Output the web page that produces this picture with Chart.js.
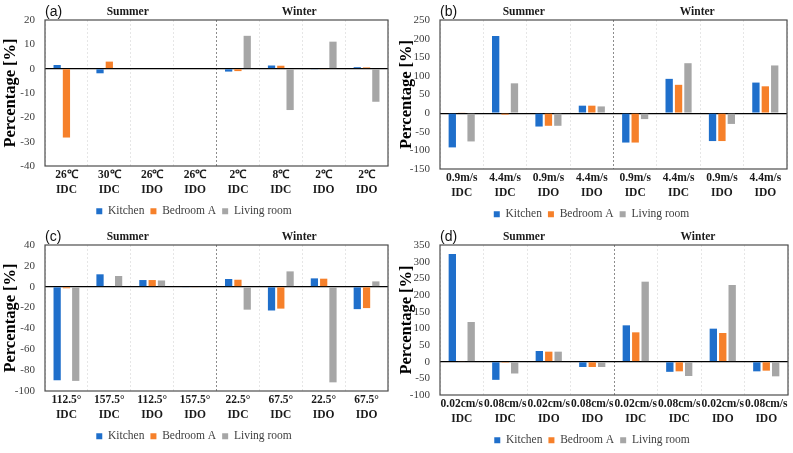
<!DOCTYPE html>
<html>
<head>
<meta charset="utf-8">
<script src="https://cdn.jsdelivr.net/npm/chart.js@4.4.1/dist/chart.umd.min.js"></script>
<style>
  html, body { margin: 0; padding: 0; background: #fff; }
  #page { position: relative; width: 793px; height: 453px; overflow: hidden; }
  .panel { position: absolute; }
</style>
</head>
<body>
<div id="page">
  <div class="panel" style="left:0;top:0;"><canvas id="chartA" width="396" height="227"></canvas></div>
  <div class="panel" style="left:396px;top:0;"><canvas id="chartB" width="397" height="230"></canvas></div>
  <div class="panel" style="left:0;top:225px;"><canvas id="chartC" width="396" height="227"></canvas></div>
  <div class="panel" style="left:396px;top:225px;"><canvas id="chartD" width="397" height="231"></canvas></div>
</div>
<script>
const seasons = ['Summer', 'Winter'];
const seriesNames = ['Kitchen', 'Bedroom A', 'Living room'];
const seriesColors = ['#1f6fcb', '#f6802a', '#a6a6a6'];

// (a) temperature
const labelsA = [['26\u2103', 'IDC'], ['30\u2103', 'IDC'], ['26\u2103', 'IDO'], ['26\u2103', 'IDO'],
                 ['2\u2103', 'IDC'], ['8\u2103', 'IDC'], ['2\u2103', 'IDO'], ['2\u2103', 'IDO']];
const kitchenA = [1.5, -1.9, 0, 0, -1.2, 1.3, -0.3, 0.6];
const bedroomA = [-28.3, 2.9, 0, 0, -1.0, 1.2, -0.3, 0.5];
const livingA  = [0, 0, 0, 0, 13.5, -17.0, 11.1, -13.6];
const yRangeA  = [-40, 20, 10];

// (b) wind speed
const labelsB = [['0.9m/s', 'IDC'], ['4.4m/s', 'IDC'], ['0.9m/s', 'IDO'], ['4.4m/s', 'IDO'],
                 ['0.9m/s', 'IDC'], ['4.4m/s', 'IDC'], ['0.9m/s', 'IDO'], ['4.4m/s', 'IDO']];
const kitchenB = [-92, 207, -36, 20, -79, 92, -75, 82];
const bedroomB = [2, -4, -34, 20, -79, 76, -75, 72];
const livingB  = [-76, 80, -34, 18, -16, 134, -29, 128];
const yRangeB  = [-150, 250, 50];

// (c) wind direction
const labelsC = [['112.5\u00b0', 'IDC'], ['157.5\u00b0', 'IDC'], ['112.5\u00b0', 'IDO'], ['157.5\u00b0', 'IDO'],
                 ['22.5\u00b0', 'IDC'], ['67.5\u00b0', 'IDC'], ['22.5\u00b0', 'IDO'], ['67.5\u00b0', 'IDO']];
const kitchenC = [-89.7, 11.9, 6.4, -0.5, 7.4, -22.8, 8.0, -21.5];
const bedroomC = [-1.5, 0, 6.4, -0.5, 6.7, -21.0, 7.7, -20.5];
const livingC  = [-90.3, 10.3, 6.0, 0, -22.0, 14.7, -91.7, 5.1];
const yRangeC  = [-100, 40, 20];

// (d) deposition velocity
const labelsD = [['0.02cm/s', 'IDC'], ['0.08cm/s', 'IDC'], ['0.02cm/s', 'IDO'], ['0.08cm/s', 'IDO'],
                 ['0.02cm/s', 'IDC'], ['0.08cm/s', 'IDC'], ['0.02cm/s', 'IDO'], ['0.08cm/s', 'IDO']];
const kitchenD = [323, -54.5, 32, -16, 109, -30.5, 99, -29];
const bedroomD = [2, -3, 30, -16, 88, -29, 86, -27];
const livingD  = [119, -35.5, 30, -16, 240, -43, 230, -44];
const yRangeD  = [-100, 350, 50];

const SERIF = '"Liberation Serif", "Times New Roman", serif';
Chart.defaults.font.family = SERIF;

// frame around the plot and the (a)/(b) tag
const panelDecor = {
    id: 'panelDecor',
    afterDraw(chart, args, opts) {
        const { ctx, chartArea: a } = chart;
        ctx.save();
        ctx.strokeStyle = '#4d4d4d';
        ctx.lineWidth = 1.2;
        ctx.strokeRect(a.left, a.top, a.right - a.left, a.bottom - a.top);
        ctx.fillStyle = '#111';
        ctx.font = '14px "Liberation Sans", Arial, sans-serif';
        ctx.textBaseline = 'middle';
        ctx.textAlign = 'left';
        ctx.fillText(opts.tag, a.left, a.top - 7.5);
        ctx.restore();
    }
};

function makePanel(canvasId, tag, labels, kitchen, bedroom, living, yRange, yWidth, rightPad) {
    const canvas = document.getElementById(canvasId);
    const values = [kitchen, bedroom, living];
    return new Chart(canvas, {
        type: 'bar',
        data: {
            labels,
            datasets: seriesNames.map((name, i) => ({
                label: name,
                data: values[i],
                backgroundColor: seriesColors[i],
                borderWidth: 0,
                categoryPercentage: 0.65,
                barPercentage: 0.78,
            })),
        },
        plugins: [panelDecor],
        options: {
            responsive: false,
            animation: false,
            layout: { padding: { left: 0, right: rightPad, top: 0, bottom: 0 } },
            plugins: {
                legend: {
                    position: 'bottom',
                    labels: {
                        boxWidth: 6,
                        boxHeight: 6,
                        padding: 6,
                        color: '#404040',
                        font: { family: SERIF, size: 11.5 },
                    },
                },
                tooltip: { enabled: false },
                panelDecor: { tag },
            },
            scales: {
                x: {
                    grid: {
                        offset: true,
                        drawTicks: false,
                        lineWidth: 1,
                        color: ctx => ctx.index === 4 ? '#8c8c8c' : '#e6e6e6',
                    },
                    border: { display: false, dash: [2, 2] },
                    ticks: {
                        autoSkip: false,
                        maxRotation: 0,
                        minRotation: 0,
                        padding: 2,
                        color: '#1a1a1a',
                        font: { family: SERIF, size: 11.5, weight: 'bold', lineHeight: 1.3 },
                    },
                    afterFit(scale) { scale.height = 33.5; },
                },
                season: {
                    type: 'category',
                    position: 'top',
                    labels: seasons,
                    offset: true,
                    grid: { display: false, drawTicks: false },
                    border: { display: false },
                    ticks: {
                        padding: 1,
                        labelOffset: -3,
                        color: '#1a1a1a',
                        font: { family: SERIF, size: 11.5, weight: 'bold' },
                    },
                    afterFit(scale) { scale.height = 20; },
                },
                y: {
                    min: yRange[0],
                    max: yRange[1],
                    ticks: {
                        stepSize: yRange[2],
                        autoSkip: false,
                        padding: 10,
                        color: '#404040',
                        font: { family: SERIF, size: 11 },
                    },
                    grid: {
                        drawTicks: false,
                        lineWidth: 1.2,
                        color: ctx => ctx.tick && ctx.tick.value === 0 ? '#000' : 'rgba(0,0,0,0)',
                    },
                    border: { display: false },
                    title: {
                        display: true,
                        text: 'Percentage [%]',
                        color: '#000',
                        padding: { top: 1, bottom: 0 },
                        font: { family: SERIF, size: 16.5, weight: 'bold' },
                    },
                    afterFit(scale) { scale.width = yWidth; },
                },
            },
        },
    });
}

makePanel('chartA', '(a)', labelsA, kitchenA, bedroomA, livingA, yRangeA, 45, 8);
makePanel('chartB', '(b)', labelsB, kitchenB, bedroomB, livingB, yRangeB, 44, 6);
makePanel('chartC', '(c)', labelsC, kitchenC, bedroomC, livingC, yRangeC, 45, 8);
makePanel('chartD', '(d)', labelsD, kitchenD, bedroomD, livingD, yRangeD, 44, 5);
</script>
</body>
</html>
